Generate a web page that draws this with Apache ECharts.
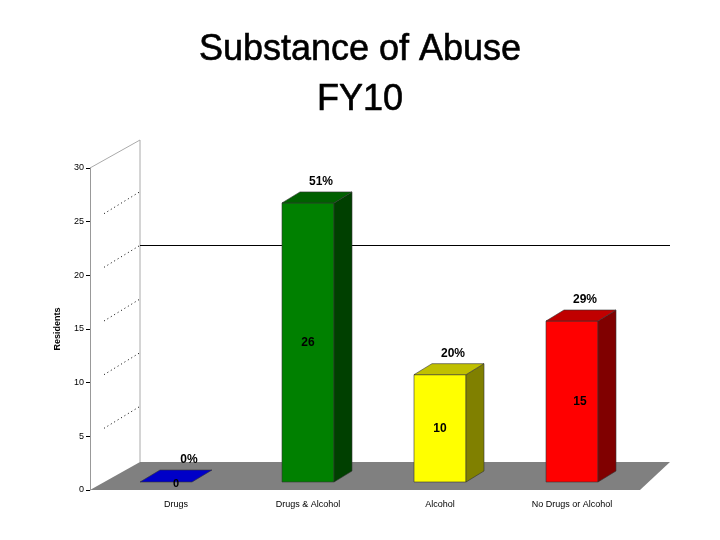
<!DOCTYPE html>
<html><head><meta charset="utf-8">
<script src="https://cdn.jsdelivr.net/npm/echarts@6/dist/echarts.min.js"></script>
<style>html,body{margin:0;background:#fff}#chart{width:720px;height:540px}</style>
</head><body><div id="chart"></div>
<script>
const categories = ['Drugs', 'Drugs & Alcohol', 'Alcohol', 'No Drugs or Alcohol'];
const residents = [0, 26, 10, 15];
const shares = ['0%', '51%', '20%', '29%'];
const yTicks = [0, 5, 10, 15, 20, 25, 30];

const faceColors = [
  ['#0000c8', '#000080', '#0000a0'],
  ['#008000', '#004000', '#006000'],
  ['#ffff00', '#808000', '#c0c000'],
  ['#ff0000', '#800000', '#c00000']
];

const chart = echarts.init(document.getElementById('chart'));
const DX = 18, DY = -11, LIFT = 8;

function renderBar(params, api) {
  const i = api.value(0), v = api.value(1);
  const base = api.coord([i, 0]);
  const top = api.coord([i, v]);
  const bw = 52;
  const x0 = base[0] - bw / 2, x1 = base[0] + bw / 2;
  const yb = base[1] - LIFT, yt = top[1] - LIFT;
  const c = faceColors[i];
  const line = { stroke: '#333', lineWidth: 0.6 };
  const children = [];
  if (v > 0) {
    children.push({ type: 'polygon', shape: { points: [[x0, yb], [x1, yb], [x1, yt], [x0, yt]] }, style: { fill: c[0], ...line } });
    children.push({ type: 'polygon', shape: { points: [[x1, yb], [x1 + DX, yb + DY], [x1 + DX, yt + DY], [x1, yt]] }, style: { fill: c[1], ...line } });
    children.push({ type: 'polygon', shape: { points: [[x0, yt], [x1, yt], [x1 + DX, yt + DY], [x0 + DX, yt + DY]] }, style: { fill: c[2], ...line } });
    children.push({ type: 'text', style: { text: String(v), x: base[0] + (i === 3 ? 8 : 0), y: (yb + yt) / 2, align: 'center', verticalAlign: 'middle', font: 'bold 12px Liberation Sans', fill: '#000' } });
  } else {
    children.push({ type: 'polygon', shape: { points: [[x0 - 10, yb], [x1 - 10, yb], [x1 + 10, yb - 12], [x0 + 10, yb - 12]] }, style: { fill: c[0], ...line } });
    children.push({ type: 'text', style: { text: '0', x: base[0], y: yb + 2, align: 'center', verticalAlign: 'middle', font: 'bold 11px Liberation Sans', fill: '#000' } });
  }
  children.push({ type: 'text', style: { text: shares[i], x: base[0] + DX / 2 + 4, y: (v > 0 ? yt + DY : yb - 12) - 10, align: 'center', verticalAlign: 'middle', font: 'bold 12px Liberation Sans', fill: '#000' } });
  return { type: 'group', children };
}

// slanted dotted gridlines from front axis to the back wall
const dotted = yTicks.slice(1, 6).map((t) => {
  const y = 490 - t * (322 / 30);
  return { type: 'line', shape: { x1: 104, y1: y - 8, x2: 140, y2: y - 30 }, style: { stroke: '#000', lineWidth: 1, lineDash: [1, 3] }, z: 1 };
});

chart.setOption({
  animation: false,
  title: {
    text: 'Substance of Abuse\nFY10', left: 'center', top: 20,
    textStyle: { fontFamily: 'Liberation Sans', fontSize: 36, fontWeight: 'normal', lineHeight: 50, color: '#000', textBorderColor: '#000', textBorderWidth: 0.6 }
  },
  grid: { left: 110, right: 82, top: 168, bottom: 50 },
  xAxis: {
    type: 'category', data: categories,
    axisLine: { show: false }, axisTick: { show: false },
    axisLabel: { fontFamily: 'Liberation Sans', fontSize: 9, color: '#000', margin: 10 }
  },
  yAxis: {
    type: 'value', min: 0, max: 30, interval: 5, offset: 20,
    name: 'Residents', nameLocation: 'middle', nameGap: 28, nameRotate: 90,
    nameTextStyle: { fontFamily: 'Liberation Sans', fontSize: 9, color: '#000', fontWeight: 'bold' },
    axisLine: { show: true, lineStyle: { color: '#999' } },
    axisTick: { show: true, length: 4, lineStyle: { color: '#000' } },
    axisLabel: { fontFamily: 'Liberation Sans', fontSize: 9, color: '#000', margin: 6 },
    splitLine: { show: false }
  },
  graphic: [
    { type: 'polygon', shape: { points: [[90, 490], [640, 490], [670, 462], [140, 462]] }, style: { fill: '#808080' }, z: 0 },
    { type: 'line', shape: { x1: 140, y1: 462, x2: 140, y2: 140 }, style: { stroke: '#aaa', lineWidth: 1 }, z: 0 },
    { type: 'line', shape: { x1: 90, y1: 168, x2: 140, y2: 140 }, style: { stroke: '#aaa', lineWidth: 1 }, z: 0 },
    { type: 'line', shape: { x1: 140, y1: 245.5, x2: 670, y2: 245.5 }, style: { stroke: '#000', lineWidth: 1 }, z: 1 },
    ...dotted
  ],
  series: [{
    type: 'custom', renderItem: renderBar, z: 5,
    data: residents.map((v, i) => [i, v])
  }]
});
</script></body></html>
